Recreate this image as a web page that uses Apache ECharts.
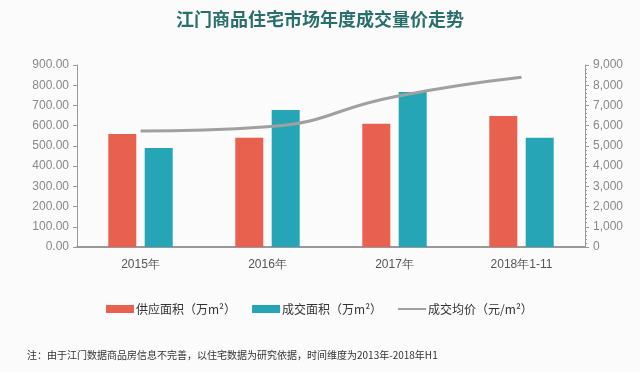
<!DOCTYPE html>
<html><head><meta charset="utf-8">
<script src="https://cdn.jsdelivr.net/npm/echarts@6/dist/echarts.min.js"></script>
<style>html,body{margin:0;padding:0;background:#fbfbfb;}#c{width:640px;height:372px;}</style>
</head><body><div id="c"></div>
<script>
var categories = ['2015年', '2016年', '2017年', '2018年1-11'];
var supplyArea = [559, 540, 609, 648];
var dealArea = [490, 678, 767, 540];
var avgPrice = [5736, 5950, 7430, 8390];
var seriesNames = ['供应面积（万m²）', '成交面积（万m²）', '成交均价（元/m²）'];
var titleText = '江门商品住宅市场年度成交量价走势';
var noteText = '注：由于江门数据商品房信息不完善，以住宅数据为研究依据，时间维度为2013年-2018年H1';

var chart = echarts.init(document.getElementById('c'));
chart.setOption({
  backgroundColor: '#fbfbfb',
  title: {
    text: titleText, left: 'center', top: 5,
    textStyle: {fontFamily: 'Noto Sans CJK SC', fontSize: 18, fontWeight: 'bold', color: '#2a6f6c'}
  },
  graphic: [{
    type: 'text', left: 27, top: 350,
    style: {text: noteText, fontSize: 10, fontFamily: 'Noto Sans CJK SC', fill: '#333'}
  }],
  legend: {
    bottom: 52, left: 101, itemGap: 16, itemWidth: 28, itemHeight: 8,
    textStyle: {fontSize: 12, color: '#333', fontFamily: 'Noto Sans CJK SC', padding: [0, 0, 0, -3]},
    data: [
      {name: seriesNames[0], icon: 'rect'},
      {name: seriesNames[1], icon: 'rect'},
      {name: seriesNames[2], icon: 'path://M0,3.1H28V4.9H0Z M0,0H0.01V0.01H0Z M27.99,7.99H28V8H27.99Z'}
    ]
  },
  grid: {left: 77, right: 55, top: 65, bottom: 125},
  xAxis: {
    type: 'category', data: categories,
    axisLine: {lineStyle: {color: '#999', width: 2}},
    axisTick: {show: false},
    axisLabel: {color: '#555', fontSize: 12, margin: 12}
  },
  yAxis: [{
    type: 'value', min: 0, max: 900, interval: 100,
    axisLine: {show: true, lineStyle: {color: '#999'}},
    axisTick: {show: true, length: 4, lineStyle: {color: '#999'}},
    splitLine: {show: false},
    axisLabel: {color: '#888', fontSize: 12, margin: 8, formatter: function (v) { return v.toFixed(2); }}
  }, {
    type: 'value', min: 0, max: 9000, interval: 1000,
    axisLine: {show: true, lineStyle: {color: '#999'}},
    axisTick: {show: true, length: 4, lineStyle: {color: '#999'}},
    minorTick: {show: true, splitNumber: 5, length: 2, lineStyle: {color: '#999'}},
    splitLine: {show: false},
    axisLabel: {color: '#888', fontSize: 12, margin: 8, formatter: function (v) { return v.toLocaleString('en-US'); }}
  }],
  series: [{
    name: seriesNames[0], type: 'bar', data: supplyArea, barWidth: 28, barGap: '30%',
    itemStyle: {color: '#e8604e'}
  }, {
    name: seriesNames[1], type: 'bar', data: dealArea, barWidth: 28,
    itemStyle: {color: '#25a5b5'}
  }, {
    name: seriesNames[2], type: 'line', yAxisIndex: 1, data: avgPrice, smooth: true,
    symbol: 'none', lineStyle: {color: '#a0a0a0', width: 3}, itemStyle: {color: '#a0a0a0'}
  }]
});
</script></body></html>
